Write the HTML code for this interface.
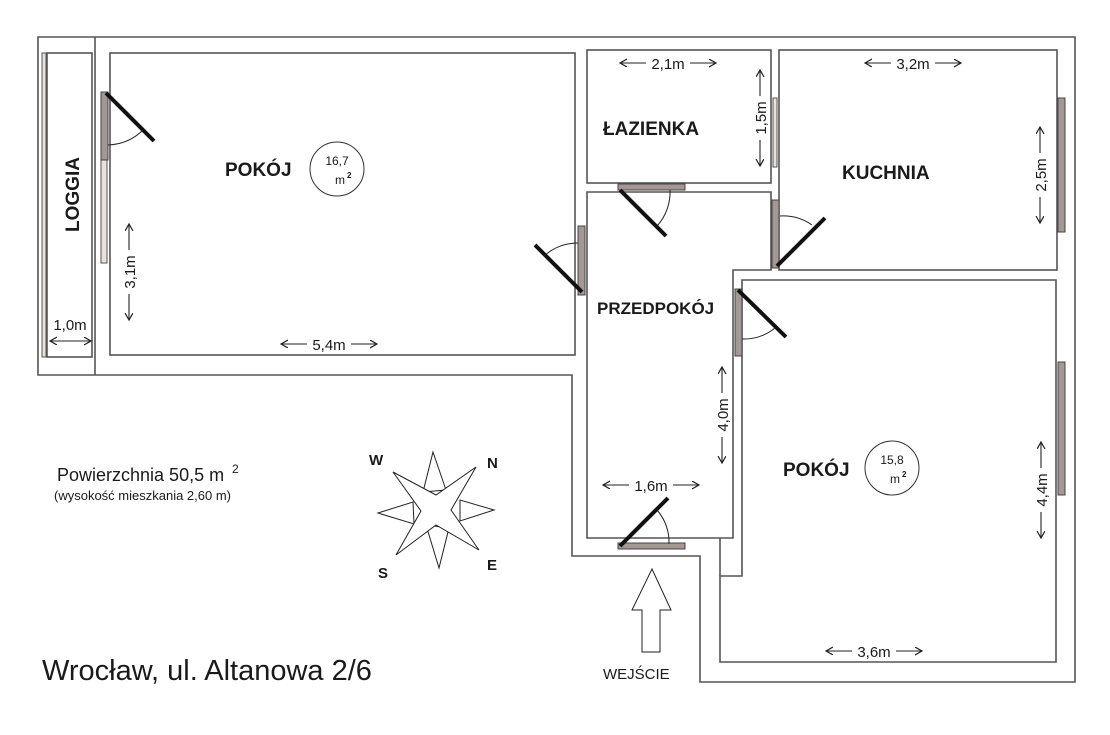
<!DOCTYPE html>
<html><head><meta charset="utf-8"><style>
html,body{margin:0;padding:0;background:#fff;}
svg{display:block;}
text{font-family:"Liberation Sans",Arial,sans-serif;fill:#1a1a1a;}
.b{font-weight:bold;font-size:19px;}
.d{font-size:15px;}
</style></head><body>
<svg width="1110" height="735" viewBox="0 0 1110 735" xmlns="http://www.w3.org/2000/svg">
<defs>
<marker id="a" markerWidth="10" markerHeight="10" refX="7" refY="4" orient="auto-start-reverse" markerUnits="userSpaceOnUse">
<path d="M0,0 L7,4 L0,8" fill="none" stroke="#222" stroke-width="1.2"/>
</marker>
</defs>
<g fill="none" stroke="#555" stroke-width="1.6">
<path d="M38 37 H1075 V682 H700 V556 H572 V375 H38 Z"/>
<line x1="95" y1="37" x2="95" y2="375"/>
<rect x="47" y="53" width="45" height="304"/>
<rect x="110" y="53" width="465" height="302"/>
<rect x="587" y="50" width="184" height="133"/>
<rect x="779" y="50" width="278" height="220"/>
<path d="M587 192 H771 V270 H733 V538 H587 Z"/>
<path d="M742 280 H1056 V662 H720 V576 H742 Z"/>
<path d="M720 538 V576"/>
</g>
<g fill="#e9e2dc" stroke="#555" stroke-width="1">
<rect x="42" y="53" width="4" height="304"/>
<rect x="101" y="160" width="6" height="103"/>
<rect x="773" y="98" width="4" height="69"/>
</g>
<g fill="#a39894" stroke="#444" stroke-width="1">
<rect x="101" y="92" width="7" height="68"/>
<rect x="578" y="226" width="7" height="69"/>
<rect x="618" y="184" width="67" height="6"/>
<rect x="772" y="200" width="7" height="68"/>
<rect x="1058" y="98" width="7" height="134"/>
<rect x="735" y="289" width="7" height="67"/>
<rect x="1058" y="362" width="7" height="133"/>
<rect x="618" y="543" width="67" height="6"/>
</g>
<g stroke="#111" stroke-width="4">
<line x1="106" y1="93" x2="154" y2="141"/>
<line x1="582" y1="292" x2="535" y2="245"/>
<line x1="620" y1="190" x2="666" y2="236"/>
<line x1="777" y1="266" x2="825" y2="218"/>
<line x1="738" y1="290" x2="786" y2="337"/>
<line x1="620" y1="546" x2="668" y2="498"/>
</g>
<g fill="none" stroke="#222" stroke-width="1">
<path d="M108 145 A52 52 0 0 0 142 131"/>
<path d="M578 243 A50 50 0 0 0 544 256"/>
<path d="M670 190 A50 50 0 0 1 657 226"/>
<path d="M780 216 A50 50 0 0 1 812 225"/>
<path d="M742 339 A50 50 0 0 0 775 328"/>
<path d="M669 544 A50 50 0 0 0 657 510"/>
</g>
<circle cx="337" cy="169" r="27" fill="none" stroke="#333" stroke-width="1"/>
<text x="337" y="165" font-size="12" text-anchor="middle">16,7</text>
<text x="340" y="184" font-size="12" text-anchor="middle">m</text><text x="347" y="178" font-size="8" font-weight="bold">2</text>
<circle cx="892" cy="468" r="27" fill="none" stroke="#333" stroke-width="1"/>
<text x="892" y="464" font-size="12" text-anchor="middle">15,8</text>
<text x="895" y="483" font-size="12" text-anchor="middle">m</text><text x="902" y="477" font-size="8" font-weight="bold">2</text>
<text class="b" x="225" y="176">POKÓJ</text>
<text class="b" x="603" y="135">ŁAZIENKA</text>
<text class="b" x="842" y="179">KUCHNIA</text>
<text class="b" x="597" y="314" style="font-size:17px">PRZEDPOKÓJ</text>
<text class="b" x="783" y="476">POKÓJ</text>
<text class="b" transform="translate(79,232) rotate(-90)">LOGGIA</text>
<!-- dimension lines -->
<g stroke="#222" stroke-width="1.1" marker-end="url(#a)">
<line x1="646" y1="63" x2="620" y2="63"/><line x1="690" y1="63" x2="716" y2="63"/>
<line x1="891" y1="63" x2="865" y2="63"/><line x1="935" y1="63" x2="961" y2="63"/>
<line x1="307" y1="344" x2="281" y2="344"/><line x1="351" y1="344" x2="377" y2="344"/>
<line x1="629" y1="485" x2="603" y2="485"/><line x1="673" y1="485" x2="699" y2="485"/>
<line x1="852" y1="651" x2="826" y2="651"/><line x1="896" y1="651" x2="922" y2="651"/>
<line x1="129" y1="250" x2="129" y2="224"/><line x1="129" y1="294" x2="129" y2="320"/>
<line x1="760" y1="96" x2="760" y2="70"/><line x1="760" y1="140" x2="760" y2="166"/>
<line x1="1040" y1="153" x2="1040" y2="127"/><line x1="1040" y1="197" x2="1040" y2="223"/>
<line x1="722" y1="393" x2="722" y2="367"/><line x1="722" y1="437" x2="722" y2="463"/>
<line x1="1041" y1="468" x2="1041" y2="442"/><line x1="1041" y1="512" x2="1041" y2="538"/>
</g>
<line x1="50" y1="341" x2="91" y2="341" stroke="#222" stroke-width="1.1" marker-start="url(#a)" marker-end="url(#a)"/>
<g class="d" text-anchor="middle">
<text x="668" y="69">2,1m</text>
<text x="913" y="69">3,2m</text>
<text x="329" y="350">5,4m</text>
<text x="651" y="491">1,6m</text>
<text x="874" y="657">3,6m</text>
<text transform="translate(135,272) rotate(-90)">3,1m</text>
<text transform="translate(766,118) rotate(-90)">1,5m</text>
<text transform="translate(1046,175) rotate(-90)">2,5m</text>
<text transform="translate(728,415) rotate(-90)">4,0m</text>
<text transform="translate(1047,490) rotate(-90)">4,4m</text>
<text x="70" y="330">1,0m</text>
</g>
<g fill="#fff" stroke="#222" stroke-width="1">
<polygon points="433,452 446,490 423,492"/>
<polygon points="494,510 460,500 460,521"/>
<polygon points="439,568 426,525 449,528"/>
<polygon points="378,513 413,502 414,524"/>
<polygon points="393,472 436,495 476,467 451,510 479,550 436,525 396,555 421,511"/>
</g>
<text x="369" y="465" font-size="15" font-weight="bold">W</text>
<text x="487" y="468" font-size="15" font-weight="bold">N</text>
<text x="378" y="578" font-size="15" font-weight="bold">S</text>
<text x="487" y="570" font-size="15" font-weight="bold">E</text>
<polygon points="652,569 671,610 660,610 660,652 642,652 642,610 632,610" fill="#fff" stroke="#222" stroke-width="1"/>
<text x="603" y="679" font-size="15">WEJŚCIE</text>
<text x="57" y="481" font-size="18">Powierzchnia 50,5 m</text><text x="232" y="473" font-size="12">2</text>
<text x="54" y="500" font-size="13">(wysokość mieszkania 2,60 m)</text>
<text x="42" y="680" font-size="29">Wrocław, ul. Altanowa 2/6</text>
</svg>
</body></html>
